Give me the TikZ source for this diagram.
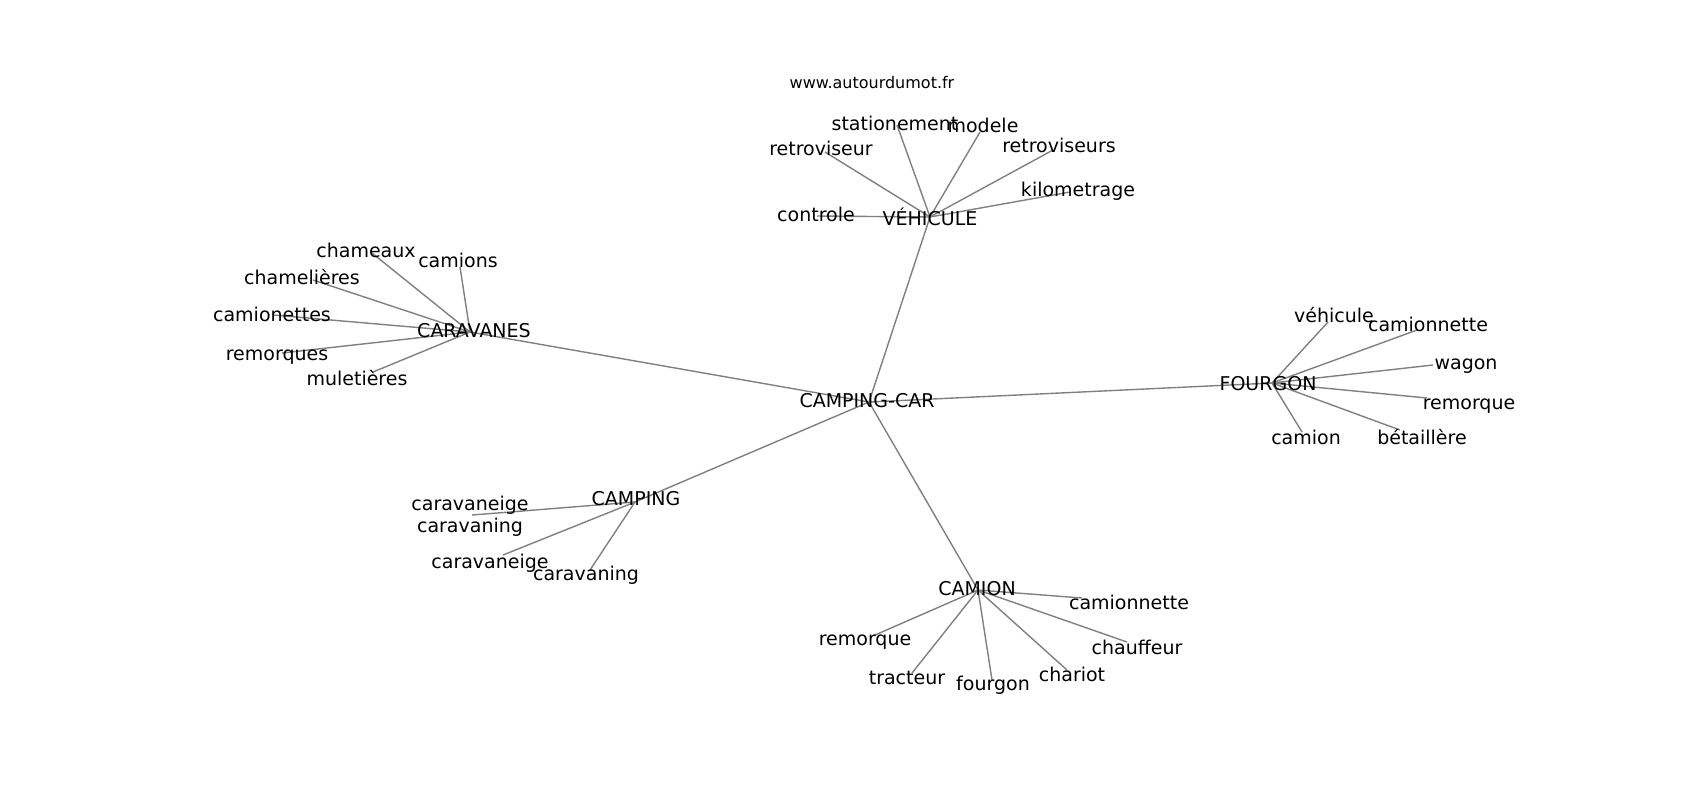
\documentclass[tikz,border=0pt]{standalone}
\usepackage{fontspec}
\setmainfont{DejaVu Sans}
\begin{document}
\begin{tikzpicture}[x=0.5pt,y=-0.5pt,
  lbl/.style={inner sep=0pt, font=\fontsize{9.5}{11}\selectfont, text height=0.73em, text depth=0.2em, yshift=-1.3pt},
  lbltwo/.style={inner sep=0pt, font=\fontsize{9.5}{11}\selectfont, align=center, yshift=-1.3pt},
  small/.style={inner sep=0pt, font=\fontsize{8}{9.6}\selectfont, text height=0.73em, text depth=0.2em, yshift=-0.6pt},
  edge/.style={draw=gray, line width=0.7pt}]
\fill[white] (0,0) rectangle (1700,800);
\useasboundingbox (0,0) rectangle (1700,800);
% vertices
\coordinate (cc) at (869,402);
\coordinate (veh) at (930,217);
\coordinate (car) at (470,332);
\coordinate (four) at (1272,383);
\coordinate (camp) at (635,502);
\coordinate (cami) at (978,590);
\coordinate (retroA) at (825,152);
\coordinate (stat) at (897,125);
\coordinate (mod) at (980,132);
\coordinate (retroB) at (1053,150);
\coordinate (kilo) at (1070,192);
\coordinate (ctrl) at (817,216);
\coordinate (chameaux) at (372,253);
\coordinate (camions) at (460,267);
\coordinate (chamel) at (313,280);
\coordinate (camionettes) at (273,315);
\coordinate (remorques) at (282,353);
\coordinate (mulet) at (373,372);
\coordinate (vehic) at (1328,322);
\coordinate (camnetA) at (1417,330);
\coordinate (wagon) at (1433,365);
\coordinate (remorqueA) at (1427,398);
\coordinate (camion) at (1302,432);
\coordinate (betail) at (1400,430);
\coordinate (cc2) at (472,515);
\coordinate (caravaneige) at (503,555);
\coordinate (caravaning) at (590,570);
\coordinate (camnetB) at (1082,598);
\coordinate (remorqueB) at (875,635);
\coordinate (tracteur) at (912,673);
\coordinate (fourgon) at (992,680);
\coordinate (chariot) at (1067,670);
\coordinate (chauffeur) at (1127,642);
% edges
\foreach \a/\b in {cc/veh, cc/car, cc/four, cc/camp, cc/cami,
  veh/retroA, veh/stat, veh/mod, veh/retroB, veh/kilo, veh/ctrl,
  car/chameaux, car/camions, car/chamel, car/camionettes, car/remorques, car/mulet,
  four/vehic, four/camnetA, four/wagon, four/remorqueA, four/camion, four/betail,
  camp/cc2, camp/caravaneige, camp/caravaning,
  cami/camnetB, cami/remorqueB, cami/tracteur, cami/fourgon, cami/chariot, cami/chauffeur}
  \draw[edge] (\a) -- (\b);
% labels
\node[small] (l-www) at (872,82) {www.autourdumot.fr};
\node[lbl] (l-cc) at (867,400) {CAMPING-CAR};
\node[lbl] (l-veh) at (930,218) {VÉHICULE};
\node[lbl] (l-car) at (474,330) {CARAVANES};
\node[lbl] (l-four) at (1268,383) {FOURGON};
\node[lbl] (l-camp) at (636,498) {CAMPING};
\node[lbl] (l-cami) at (977,588) {CAMION};
\node[lbl] (l-retroA) at (821,148) {retroviseur};
\node[lbl] (l-stat) at (895,123) {stationement};
\node[lbl] (l-mod) at (983,125) {modele};
\node[lbl] (l-retroB) at (1059,145) {retroviseurs};
\node[lbl] (l-kilo) at (1078,189) {kilometrage};
\node[lbl] (l-ctrl) at (816,214) {controle};
\node[lbl] (l-chameaux) at (366,250) {chameaux};
\node[lbl] (l-camions) at (458,260) {camions};
\node[lbl] (l-chamel) at (302,277) {chamelières};
\node[lbl] (l-camionettes) at (272,314) {camionettes};
\node[lbl] (l-remorques) at (277,353) {remorques};
\node[lbl] (l-mulet) at (357,378) {muletières};
\node[lbl] (l-vehic) at (1334,315) {véhicule};
\node[lbl] (l-camnetA) at (1428,324) {camionnette};
\node[lbl] (l-wagon) at (1466,362) {wagon};
\node[lbl] (l-remorqueA) at (1469,402) {remorque};
\node[lbl] (l-camion) at (1306,437) {camion};
\node[lbl] (l-betail) at (1422,437) {bétaillère};
\node[lbltwo] (l-cc2) at (470,514) {caravaneige\\caravaning};
\node[lbl] (l-caravaneige) at (490,561) {caravaneige};
\node[lbl] (l-caravaning) at (586,573) {caravaning};
\node[lbl] (l-camnetB) at (1129,602) {camionnette};
\node[lbl] (l-remorqueB) at (865,638) {remorque};
\node[lbl] (l-tracteur) at (907,677) {tracteur};
\node[lbl] (l-fourgon) at (993,683) {fourgon};
\node[lbl] (l-chariot) at (1072,674) {chariot};
\node[lbl] (l-chauffeur) at (1137,647) {chauffeur};
\end{tikzpicture}
\end{document}
